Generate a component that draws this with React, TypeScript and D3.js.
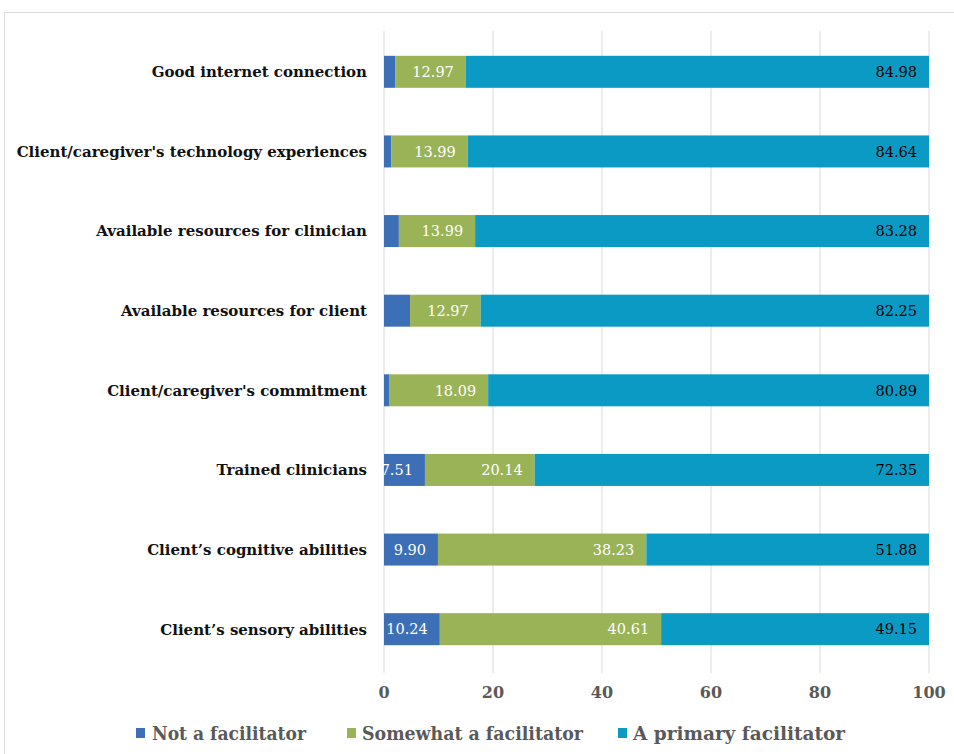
import React from "react";
import * as d3 from "d3";

const categories = [
  "Good internet connection",
  "Client/caregiver's technology experiences",
  "Available resources for clinician",
  "Available resources for client",
  "Client/caregiver's commitment",
  "Trained clinicians",
  "Client’s cognitive abilities",
  "Client’s sensory abilities",
];
const notFacilitator = [2.05, 1.37, 2.73, 4.78, 1.02, 7.51, 9.9, 10.24];
const somewhatFacilitator = [12.97, 13.99, 13.99, 12.97, 18.09, 20.14, 38.23, 40.61];
const primaryFacilitator = [84.98, 84.64, 83.28, 82.25, 80.89, 72.35, 51.88, 49.15];
const seriesNames = ["Not a facilitator", "Somewhat a facilitator", "A primary facilitator"];
const xTicks = [0, 20, 40, 60, 80, 100];
const showLabelMin = 5;

const colors = ["#3D6FB6", "#9BB357", "#0A9AC4"];
const labelColors = ["#ffffff", "#ffffff", "#000000"];
const serif = "'DejaVu Serif', 'Liberation Serif', serif";

export default function App() {
  const W = 954, H = 754;
  const x = d3.scaleLinear().domain([0, 100]).range([384, 929]);
  const y = d3.scaleBand<string>().domain(categories).range([32, 669]).padding(0);
  const barH = 32;
  const series = [notFacilitator, somewhatFacilitator, primaryFacilitator];
  const rows = categories.map((c, i) => {
    const obj: any = { cat: c };
    seriesNames.forEach((s, k) => (obj[s] = series[k][i]));
    return obj;
  });
  const stacked = d3.stack<any>().keys(seriesNames)(rows);
  const legend = [
    { x: 136, tx: 152, w: 154 },
    { x: 347, tx: 362, w: 221 },
    { x: 618, tx: 633, w: 212 },
  ];

  return (
    <svg width={W} height={H} style={{ position: "absolute", left: 0, top: 0, background: "#fff" }}>
      <rect x={4.5} y={12.5} width={W} height={H} fill="#fff" stroke="#d9d9d9" />
      {xTicks.map((t) => (
        <line key={t} x1={x(t)} x2={x(t)} y1={31} y2={673} stroke="#d9d9d9" strokeWidth={1} />
      ))}
      {stacked.map((s, k) =>
        s.map((d, i) => {
          const yc = y(categories[i])! + y.bandwidth() / 2;
          return (
            <rect key={k + "-" + i} x={x(d[0])} y={yc - barH / 2} width={x(d[1]) - x(d[0])} height={barH} fill={colors[k]} />
          );
        })
      )}
      {stacked.map((s, k) =>
        s.map((d, i) => {
          const v = d[1] - d[0];
          if (v < showLabelMin) return null;
          const yc = y(categories[i])! + y.bandwidth() / 2;
          return (
            <text key={"l" + k + "-" + i} x={x(d[1]) - 12} y={yc} dy="0.36em" textAnchor="end"
              fontFamily={serif} fontSize={14.5} fill={labelColors[k]}>
              {series[k][i].toFixed(2)}
            </text>
          );
        })
      )}
      {categories.map((c) => (
        <text key={c} x={367} y={y(c)! + y.bandwidth() / 2} dy="0.36em" textAnchor="end"
          fontFamily={serif} fontWeight="bold" fontSize={15} fill="#111">
          {c}
        </text>
      ))}
      {xTicks.map((t) => (
        <text key={"t" + t} x={x(t)} y={692} dy="0.36em" textAnchor="middle"
          fontFamily={serif} fontWeight="bold" fontSize={16} fill="#595959">
          {t}
        </text>
      ))}
      {legend.map((p, k) => (
        <g key={"lg" + k}>
          <rect x={p.x} y={728} width={9} height={10} fill={colors[k]} />
          <text x={p.tx} y={733} dy="0.36em" fontFamily={serif} fontWeight="bold" fontSize={19}
            fill="#595959" textLength={p.w} lengthAdjust="spacingAndGlyphs">
            {seriesNames[k]}
          </text>
        </g>
      ))}
    </svg>
  );
}
